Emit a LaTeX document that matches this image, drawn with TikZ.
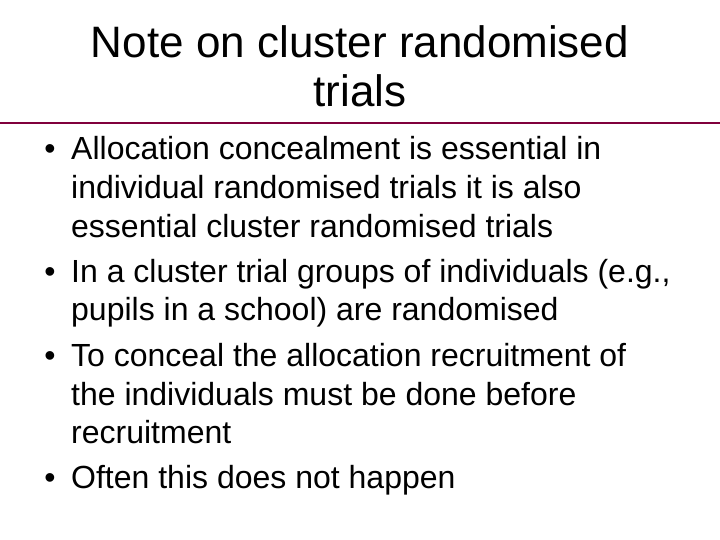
\documentclass[tikz,border=0pt]{standalone}
\usepackage{fontspec}
\setmainfont{Liberation Sans}
\definecolor{rule}{RGB}{128,0,60}
\begin{document}
\begin{tikzpicture}[x=1pt,y=-1pt,
  ttl/.style={font=\fontsize{44}{50}\selectfont,anchor=base,inner sep=0},
  txt/.style={font=\fontsize{32}{38}\selectfont,anchor=base west,inner sep=0},
  bul/.style={font=\fontsize{32}{38}\selectfont,anchor=base,inner sep=0}]
\useasboundingbox (0,0) rectangle (720,540);
\node[ttl] (t1) at (360,58) {Note on cluster randomised};
\node[ttl] (t2) at (360,107) {trials};
\draw[rule,line width=2pt] (0,123) -- (720,123);
\foreach \y in {160,282,366,488} \node[bul] at (50,\y) {•};
\node[txt] (l1) at (71,160) {Allocation concealment is essential in};
\node[txt] (l2) at (71,198.5) {individual randomised trials it is also};
\node[txt] (l3) at (71,237) {essential cluster randomised trials};
\node[txt] (l4) at (71,282) {In a cluster trial groups of individuals (e.g.,};
\node[txt] (l5) at (71,320.5) {pupils in a school) are randomised};
\node[txt] (l6) at (71,366) {To conceal the allocation recruitment of};
\node[txt] (l7) at (71,405) {the individuals must be done before};
\node[txt] (l8) at (71,443.5) {recruitment};
\node[txt] (l9) at (71,488) {Often this does not happen};
\end{tikzpicture}
\end{document}
